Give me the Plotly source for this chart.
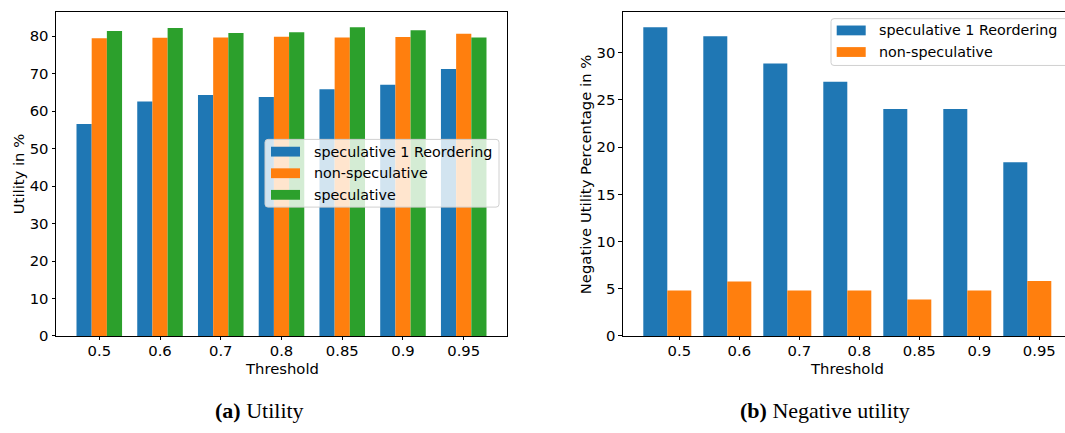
import plotly.graph_objects as go

thresholds = ["0.5", "0.6", "0.7", "0.8", "0.85", "0.9", "0.95"]

# (a) Utility in %
util_spec1_reorder = [56.6, 62.6, 64.3, 63.8, 65.9, 67.1, 71.3]
util_nonspec = [79.5, 79.6, 79.7, 79.9, 79.7, 79.8, 80.7]
util_spec = [81.4, 82.2, 80.9, 81.1, 82.4, 81.6, 79.7]

# (b) Negative utility percentage in %
neg_spec1_reorder = [32.69, 31.73, 28.85, 26.92, 24.04, 24.04, 18.4]
neg_nonspec = [4.81, 5.77, 4.81, 4.81, 3.85, 4.81, 5.82]

legend_a = ["speculative 1 Reordering", "non-speculative", "speculative"]
legend_b = ["speculative 1 Reordering", "non-speculative"]

BLUE, ORANGE, GREEN = "#1f77b4", "#ff7f0e", "#2ca02c"
W, H = 1065, 433
TICKFONT = dict(family="DejaVu Sans", size=14.8, color="black")
LEGFONT = dict(family="DejaVu Sans", size=14.3, color="black")

fig = go.Figure()

for name, vals, col, off in zip(legend_a, [util_spec1_reorder, util_nonspec, util_spec],
                                [BLUE, ORANGE, GREEN], [-0.375, -0.125, 0.125]):
    fig.add_trace(go.Bar(x=thresholds, y=vals, name=name, marker_color=col,
                         marker_line_width=0, width=0.25, offset=off,
                         xaxis="x", yaxis="y", showlegend=False))

for name, vals, col, off in zip(legend_b, [neg_spec1_reorder, neg_nonspec],
                                [BLUE, ORANGE], [-0.6, -0.2]):
    fig.add_trace(go.Bar(x=thresholds, y=vals, name=name, marker_color=col,
                         marker_line_width=0, width=0.4, offset=off,
                         xaxis="x2", yaxis="y2", showlegend=False))

ydom = [(H - 342.3) / H, (H - 12) / H]
axcommon = dict(showline=True, linecolor="black", linewidth=1, ticks="outside",
                ticklen=3.5, tickwidth=1, tickcolor="black", tickfont=TICKFONT,
                showgrid=False, zeroline=False)

fig.update_layout(
    width=W, height=H, margin=dict(l=0, r=0, t=0, b=0),
    plot_bgcolor="white", paper_bgcolor="white",
    barmode="overlay", showlegend=False,
    xaxis=dict(domain=[56 / W, 507 / W], type="category", range=[-0.7125, 6.7125],
               mirror=True, anchor="y", ticklabelstandoff=-2, **axcommon),
    yaxis=dict(domain=ydom, range=[0, 86.55], tickvals=list(range(0, 81, 10)),
               mirror=True, anchor="x", **axcommon),
    xaxis2=dict(domain=[622.9 / W, 1.0], type="category",
                range=[-0.94, -0.94 + (W - 622.9) / 60.0],
                mirror=True, anchor="y2", ticklabelstandoff=-2, **axcommon),
    yaxis2=dict(domain=ydom, range=[0, 34.33], tickvals=list(range(0, 31, 5)),
                mirror=False, anchor="x2", **axcommon),
)


def px(x):
    return x / W


def py(y):
    return (H - y) / H


def rounded_box(x0, y0, x1, y1, r=3):
    return (f"M{px(x0 + r)},{py(y0)} L{px(x1 - r)},{py(y0)} Q{px(x1)},{py(y0)} {px(x1)},{py(y0 + r)} "
            f"L{px(x1)},{py(y1 - r)} Q{px(x1)},{py(y1)} {px(x1 - r)},{py(y1)} "
            f"L{px(x0 + r)},{py(y1)} Q{px(x0)},{py(y1)} {px(x0)},{py(y1 - r)} "
            f"L{px(x0)},{py(y0 + r)} Q{px(x0)},{py(y0)} {px(x0 + r)},{py(y0)} Z")


def draw_legend(box, patch_x, text_x, ys, labels, colors):
    x0, y0, x1, y1 = box
    fig.add_shape(type="path", xref="paper", yref="paper", path=rounded_box(x0, y0, x1, y1),
                  fillcolor="rgba(255,255,255,0.8)", line=dict(color="#d0d0d0", width=1),
                  layer="above")
    for yy, lab, col in zip(ys, labels, colors):
        fig.add_shape(type="rect", xref="paper", yref="paper",
                      x0=px(patch_x[0]), x1=px(patch_x[1]), y0=py(yy - 5), y1=py(yy + 5),
                      fillcolor=col, line=dict(width=0), layer="above")
        fig.add_annotation(xref="paper", yref="paper", x=px(text_x), y=py(yy), text=lab,
                           showarrow=False, xanchor="left", yanchor="middle", font=LEGFONT)


draw_legend((265, 142, 499, 211), (271, 300), 311.5, [154.5, 176.5, 198.5],
            legend_a, [BLUE, ORANGE, GREEN])
draw_legend((831, 19, 1085, 66.7), (836.7, 865.7), 876.5, [31, 53],
            legend_b, [BLUE, ORANGE])

annots = [
    dict(text="Threshold", x=281.7 / W, y=py(375), font=TICKFONT),
    dict(text="Threshold", x=847 / W, y=py(375), font=TICKFONT),
    dict(text="Utility in %", x=18 / W, y=py(177.5), textangle=-90, font=TICKFONT),
    dict(text="Negative Utility Percentage in %", x=585 / W, y=py(177.5),
         textangle=-90, font=TICKFONT),
    dict(text="<b>(a)</b> Utility", x=259 / W, y=py(418),
         font=dict(family="Liberation Serif", size=22, color="black")),
    dict(text="<b>(b)</b> Negative utility", x=824.7 / W, y=py(418),
         font=dict(family="Liberation Serif", size=22, color="black")),
]
for a in annots:
    fig.add_annotation(xref="paper", yref="paper", showarrow=False,
                       xanchor="center", yanchor="middle", **a)

fig.write_html("out.html")
